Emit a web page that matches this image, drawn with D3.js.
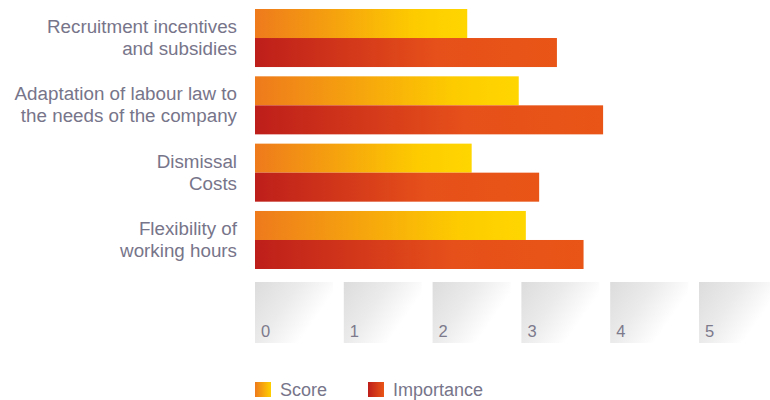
<!DOCTYPE html>
<html>
<head>
<meta charset="utf-8">
<script src="https://cdn.jsdelivr.net/npm/d3@7"></script>
<style>
  html, body { margin: 0; padding: 0; background: #fff; }
  svg { display: block; }
  text { font-family: "Liberation Sans", Arial, sans-serif; }
</style>
</head>
<body>
<svg id="chart" width="770" height="400"></svg>
<script>
// Factors rated by companies: current score vs. importance (0–5 scale)
const categories = [
  ["Recruitment incentives", "and subsidies"],
  ["Adaptation of labour law to", "the needs of the company"],
  ["Dismissal", "Costs"],
  ["Flexibility of", "working hours"]
];
const seriesNames = ["Score", "Importance"];
const scoreValues = [2.39, 2.97, 2.44, 3.05];
const importanceValues = [3.40, 3.92, 3.20, 3.70];
const tickValues = [0, 1, 2, 3, 4, 5];

const svg = d3.select("#chart");

const x = d3.scaleLinear().domain([0, 5]).range([255, 699]);
const y = d3.scaleBand()
  .domain(d3.range(categories.length))
  .range([9, 269])
  .paddingInner(0.138)
  .paddingOuter(0);
const sub = d3.scaleBand().domain(seriesNames).range([0, y.bandwidth()]).padding(0);

// Gradients
const defs = svg.append("defs");
function hGrad(id, stops) {
  const g = defs.append("linearGradient").attr("id", id)
    .attr("x1", 0).attr("y1", 0).attr("x2", 1).attr("y2", 0);
  stops.forEach(([o, c]) => g.append("stop").attr("offset", o).attr("stop-color", c));
}
hGrad("gScore", [[0, "#ee7a1c"], [0.75, "#fdcb00"], [1, "#ffd600"]]);
hGrad("gImp", [[0, "#be1e1a"], [0.6, "#e6501a"], [1, "#e95516"]]);
hGrad("gScoreKey", [[0, "#ee7a1c"], [1, "#ffd000"]]);
hGrad("gImpKey", [[0, "#be1e1a"], [1, "#e95516"]]);
const boxGrad = defs.append("linearGradient").attr("id", "gBox")
  .attr("x1", 0).attr("y1", 0).attr("x2", 1).attr("y2", 0.55);
[[0, "#dcdcdc"], [0.45, "#ebebeb"], [0.85, "#ffffff"], [1, "#ffffff"]]
  .forEach(([o, c]) => boxGrad.append("stop").attr("offset", o).attr("stop-color", c));

const series = [
  { name: "Score", values: scoreValues, fill: "url(#gScore)" },
  { name: "Importance", values: importanceValues, fill: "url(#gImp)" }
];

// Bars
const groups = svg.append("g").selectAll("g")
  .data(categories)
  .join("g")
  .attr("transform", (d, i) => `translate(0,${y(i)})`);

groups.each(function (d, i) {
  d3.select(this).selectAll("rect")
    .data(series)
    .join("rect")
    .attr("x", x(0))
    .attr("y", s => sub(s.name))
    .attr("height", sub.bandwidth())
    .attr("width", s => x(s.values[i]) - x(0))
    .attr("fill", s => s.fill);
});

// Category labels
groups.append("text")
  .attr("text-anchor", "end")
  .attr("font-size", 18.8)
  .attr("fill", "#77758a")
  .selectAll("tspan")
  .data(d => d)
  .join("tspan")
  .attr("x", 237)
  .attr("y", (t, j) => y.bandwidth() / 2 - 5 + j * 22)
  .text(t => t);

// Axis: shaded tiles with tick labels
const axis = svg.append("g");
const tileW = 78, tileTop = 282, tileBottom = 343;
axis.selectAll("rect")
  .data(tickValues)
  .join("rect")
  .attr("x", d => x(d))
  .attr("y", tileTop)
  .attr("width", tileW)
  .attr("height", tileBottom - tileTop)
  .attr("fill", "url(#gBox)");
axis.selectAll("text")
  .data(tickValues)
  .join("text")
  .attr("x", d => x(d) + 6)
  .attr("y", 337)
  .attr("font-size", 16.5)
  .attr("fill", "#7d7a8c")
  .text(d => d);

// Legend
const legend = svg.append("g");
const legendItems = [
  { name: seriesNames[0], fill: "url(#gScoreKey)", x: 255 },
  { name: seriesNames[1], fill: "url(#gImpKey)", x: 368 }
];
const li = legend.selectAll("g").data(legendItems).join("g")
  .attr("transform", d => `translate(${d.x},382)`);
li.append("rect").attr("width", 16).attr("height", 15).attr("fill", d => d.fill);
li.append("text").attr("x", 25).attr("y", 14).attr("font-size", 18)
  .attr("fill", "#77758a").text(d => d.name);
</script>
</body>
</html>
